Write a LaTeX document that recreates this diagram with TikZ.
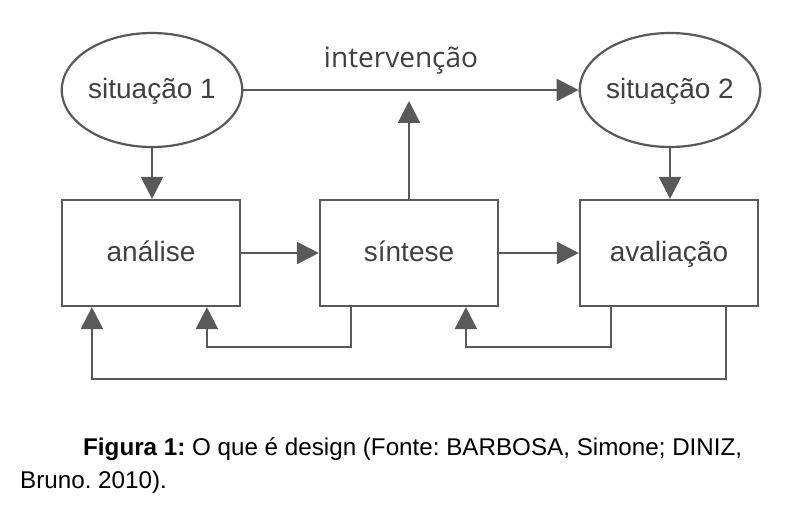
\documentclass[tikz,border=0pt]{standalone}
\usepackage{fontspec}
\setmainfont{Liberation Sans}
\newfontfamily\ivfont{Open Sans}
\usetikzlibrary{shapes.geometric,arrows.meta,calc}
\definecolor{ln}{HTML}{595959}
\definecolor{tx}{HTML}{404040}
\tikzset{
  lbl/.style={text=tx,font=\fontsize{28}{30}\selectfont,text height=22pt,text depth=5pt},
  sit/.style={ellipse,draw=ln,line width=2.2pt,minimum width=176pt,minimum height=114pt,inner sep=0pt,lbl},
  stepbox/.style={rectangle,draw=ln,line width=2.2pt,minimum width=178pt,minimum height=106pt,inner sep=0pt,lbl},
  conn/.style={draw=ln,line width=2.2pt,-{Triangle[length=22pt,width=22pt]}}
}
\begin{document}
\frenchspacing
\begin{tikzpicture}[x=1pt,y=-1pt]
\useasboundingbox (0,0) rectangle (806,516);
\node[sit] (s1) at (152,90) {situação 1};
\node[sit] (s2) at (670,90) {situação 2};
\node[stepbox] (an) at (151,253) {análise};
\node[stepbox] (si) at (409,253) {síntese};
\node[stepbox] (av) at (669,253) {avaliação};
\node[text=tx,font=\ivfont\fontsize{28}{30}\selectfont,anchor=base] (iv) at (401,68) {intervenção};
\coordinate (ivtip) at (409,101);
\draw[conn] (s1.east) -- (s2.west);
\draw[conn] (s1.south) -- (s1.south |- an.north);
\draw[conn] (s2.south) -- (s2.south |- av.north);
\draw[conn] (si.north) -- (ivtip);
\draw[conn] (an.east) -- (si.west);
\draw[conn] (si.east) -- (av.west);
\draw[conn] ($(si.south west)+(32,0)$) -- ++(0,40) -| ($(an.south west)+(146,0)$);
\draw[conn] ($(av.south west)+(32,0)$) -- ++(0,40) -| ($(si.south west)+(147,0)$);
\draw[conn] ($(av.south west)+(147,0)$) -- ++(0,72) -| ($(an.south west)+(31,0)$);
\node[anchor=base west,inner sep=0pt,align=left,font=\fontsize{24.2}{33}\selectfont] (cap) at (20,488)
  {\hspace{63pt}\textbf{Figura 1:} O que é design (Fonte: BARBOSA, Simone; DINIZ,\\Bruno. 2010).};
\end{tikzpicture}
\end{document}
